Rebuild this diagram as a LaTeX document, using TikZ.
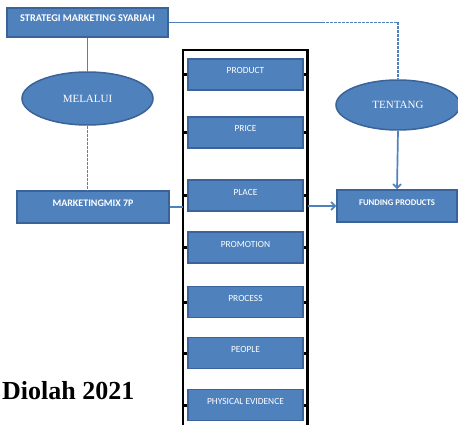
\documentclass[tikz,border=0pt]{standalone}
\usepackage{fontspec}
\setmainfont{Liberation Serif}
\newfontfamily\calib{Carlito}
\usetikzlibrary{shapes.geometric, arrows.meta}
\definecolor{boxblue}{HTML}{4F81BD}
\definecolor{edgeblue}{HTML}{3B639A}
\newcommand\mixbox[3]{\node [pbox] (#1) at (245.5, #2) {#3};
  \draw [stub] (#1.west) -- (#1.west -| fl);
  \draw [stub] (#1.east) -- (#1.east -| fr);}

\begin{document}
\begin{tikzpicture}[x=1pt, y=-1pt,
    bluebox/.style={draw=edgeblue, line width=1.5pt, fill=boxblue, text=white,
      inner sep=0pt, text height=7pt, text depth=8pt},
    headbox/.style={bluebox, font=\calib\bfseries\fontsize{#1}{10}\selectfont},
    pbox/.style={bluebox, minimum width=115, minimum height=31,
      font=\calib\fontsize{9.4}{10}\selectfont},
    oval/.style={ellipse, draw=edgeblue, line width=1.5pt, fill=boxblue, text=white,
      inner sep=0pt, font=\fontsize{11}{11}\selectfont},
    link/.style={boxblue, line width=1.7pt},
    dotlink/.style={link, dash pattern=on 3pt off 1pt},
    stub/.style={black, line width=3pt},
    tip/.style={-{Straight Barb[length=4pt, width=8pt]}}]
  \useasboundingbox (0, 0) rectangle (458, 425);

  \node [headbox=10.3, minimum width=161, minimum height=29] (strategi) at (87.5, 22.5) {STRATEGI MARKETING SYARIAH};
  \node [oval, minimum width=131, minimum height=53] (melalui) at (87.5, 98.5) {MELALUI};
  \node [headbox=10, minimum width=152, minimum height=32] (mix) at (93, 207) {MARKETINGMIX 7P};
  \node [oval, minimum width=124, minimum height=50] (tentang) at (398, 105) {TENTANG};
  \node [headbox=8.7, minimum width=120, minimum height=32] (funding) at (397, 206) {FUNDING PRODUCTS};

  % frame round the 7P
  \coordinate (fl) at (183, 50);
  \coordinate (fr) at (307.5, 50);
  \coordinate (flb) at (183, 427);
  \coordinate (frb) at (307.5, 427);
  \draw [line width=2.2pt] (flb) -- (fl) -- (fr) -- (frb);

  \mixbox{product}{74.5}{PRODUCT}
  \mixbox{price}{132.5}{PRICE}
  \mixbox{place}{195.5}{PLACE}
  \mixbox{promotion}{247.5}{PROMOTION}
  \mixbox{process}{302}{PROCESS}
  \mixbox{people}{353}{PEOPLE}
  \mixbox{physical}{405}{PHYSICAL EVIDENCE}

  \coordinate (split) at (322, 22.5);
  \draw [link] (strategi.east) -- (split);
  \draw [dotlink] (split) -- (split -| tentang.north) -- (tentang.north);
  \draw [link] (strategi.south) -- (melalui.north);
  \draw [dotlink] (melalui.south) -- (melalui.south |- mix.north);
  \draw [link, tip] (tentang.south) -- (funding.north);
  \draw [link] (mix.east) -- (mix.east -| fl);
  \draw [link, tip] (funding.west -| fr) -- (funding.west);

  \node [font=\bfseries\fontsize{26}{26}\selectfont, anchor=base west, inner sep=0pt] (source) at (2, 399) {Diolah 2021};
\end{tikzpicture}
\end{document}
